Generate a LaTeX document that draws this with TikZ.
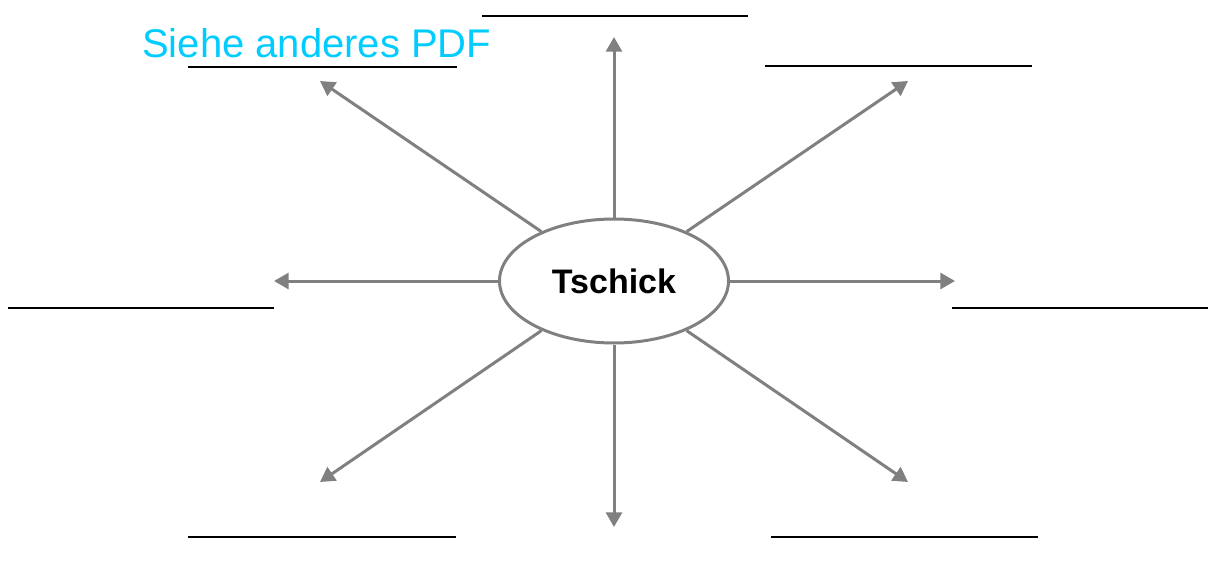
\documentclass[tikz,border=0pt]{standalone}
\usepackage{fontspec}
\setmainfont{Liberation Sans}
\usetikzlibrary{shapes.geometric,arrows.meta}
\definecolor{arrowgray}{RGB}{128,128,128}
\definecolor{hintblue}{RGB}{0,204,255}
\begin{document}
\begin{tikzpicture}[x=0.75pt, y=-0.75pt, >={Triangle[width=12pt,length=11pt]},
    spoke/.style={->, arrowgray, line width=2.25pt},
    blank/.style={black, line width=1.5pt}]
\useasboundingbox (0,0) rectangle (1208,579);
\node[ellipse, draw=arrowgray, line width=2.25pt, minimum width=171.75pt, minimum height=93pt, inner sep=0pt,
    font=\bfseries\fontsize{25.5pt}{30pt}\selectfont] (tschick) at (614,281) {Tschick};
% ends of the arrows
\coordinate (n) at (614,37);
\coordinate (s) at (614,527);
\coordinate (w) at (274,281);
\coordinate (e) at (955,281);
\coordinate (nw) at (320,81);
\coordinate (ne) at (908,81);
\coordinate (sw) at (320,482);
\coordinate (se) at (908,482);
\foreach \dir in {n,s,w,e,nw,ne,sw,se}
    \draw[spoke] (tschick) -- (\dir);
% lines to write on
\draw[blank] (482,16)--(748,16);
\draw[blank] (188,67)--(457,67);
\draw[blank] (765,66)--(1032,66);
\draw[blank] (8,308)--(274,308);
\draw[blank] (952,308)--(1208,308);
\draw[blank] (188,537)--(456,537);
\draw[blank] (771,537)--(1038,537);
\node[anchor=base west, inner sep=0pt, text=hintblue, font=\fontsize{30pt}{36pt}\selectfont] (hint) at (142,57) {Siehe anderes PDF};
\end{tikzpicture}
\end{document}
